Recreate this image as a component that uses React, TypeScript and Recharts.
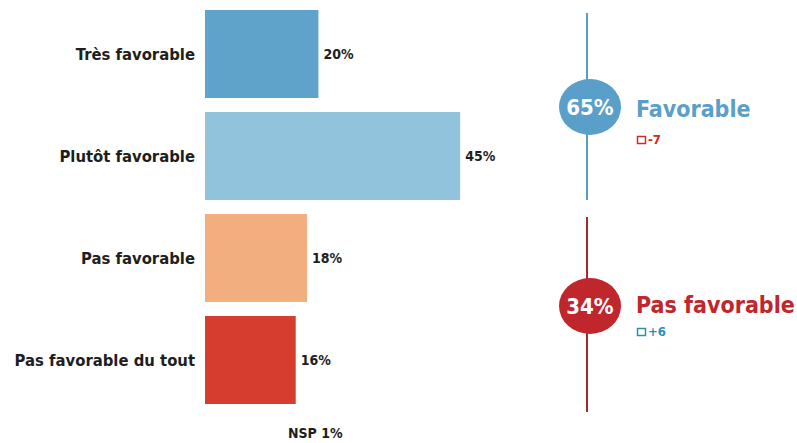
import { BarChart, Bar, XAxis, YAxis, Cell, LabelList } from "recharts";

const categories = ["Très favorable", "Plutôt favorable", "Pas favorable", "Pas favorable du tout"];
const values = [20, 45, 18, 16];
const barColors = ["#5fa3cb", "#92c3dd", "#f3ae80", "#d73d2e"];

const groupLabels = ["Favorable", "Pas favorable"];
const groupTotals = [65, 34];
const groupChanges = ["-7", "+6"];
const groupColors = ["#5a9fc9", "#c0272d"];
const groupLineColors = ["#5c9dc6", "#a9262f"];
const changeColors = ["#d42a22", "#2d8fb4"];

const nspLabel = "NSP 1%";

const FONT = "'DejaVu Sans Condensed', 'DejaVu Sans', sans-serif";

const data = categories.map((name, i) => ({ name, value: values[i] }));

// right-hand summary blocks (line + bubble + caption)
const groups = [
  { y1: 13, y2: 200, cy: 107, textY: 117, markY: 136 },
  { y1: 217, y2: 412, cy: 306, textY: 313, markY: 328 },
];

export default function App() {
  return (
    <div style={{ position: "absolute", left: 0, top: 0, width: 797, height: 443, background: "#fff", fontFamily: FONT }}>
      <BarChart
        width={797}
        height={443}
        data={data}
        layout="vertical"
        margin={{ top: 3, right: 25, bottom: 32, left: 0 }}
      >
        <XAxis type="number" domain={[0, 100]} hide />
        <YAxis
          type="category"
          dataKey="name"
          width={205}
          axisLine={false}
          tickLine={false}
          tickSize={0}
          tickMargin={10}
          tick={{ fill: "#1e1e1e", fontSize: 16.5, fontFamily: FONT, fontWeight: "bold" }}
        />
        <Bar dataKey="value" barSize={88} isAnimationActive={false}>
          {data.map((_, i) => (
            <Cell key={i} fill={barColors[i]} />
          ))}
          <LabelList
            dataKey="value"
            position="right"
            offset={5}
            formatter={(v: number) => `${v}%`}
            style={{ fill: "#1e1e1e", fontSize: 14, fontFamily: FONT, fontWeight: "bold" }}
          />
        </Bar>
      </BarChart>
      <svg width={797} height={443} style={{ position: "absolute", left: 0, top: 0 }}>
        {groups.map((g, i) => (
          <g key={i}>
            <line x1={587} x2={587} y1={g.y1} y2={g.y2} stroke={groupLineColors[i]} strokeWidth={2} />
            <ellipse cx={590} cy={g.cy} rx={31} ry={28} fill={groupColors[i]} />
            <text x={590} y={g.cy + 8} textAnchor="middle" fill="#fff" fontSize={22} fontWeight="bold" fontFamily={FONT}>
              {groupTotals[i]}%
            </text>
            <text x={636} y={g.textY} fill={groupColors[i]} fontSize={23} fontWeight="bold" fontFamily={FONT}>
              {groupLabels[i]}
            </text>
            <rect x={637.5} y={g.markY + 0.5} width={8} height={7} fill="none" stroke={changeColors[i]} strokeWidth={1.5} />
            <text x={648} y={g.markY + 8} fill={changeColors[i]} fontSize={13} fontWeight="bold" fontFamily={FONT}>
              {groupChanges[i]}
            </text>
          </g>
        ))}
        <text x={288} y={438} fill="#1e1e1e" fontSize={14} fontWeight="bold" fontFamily={FONT}>
          {nspLabel}
        </text>
      </svg>
    </div>
  );
}
